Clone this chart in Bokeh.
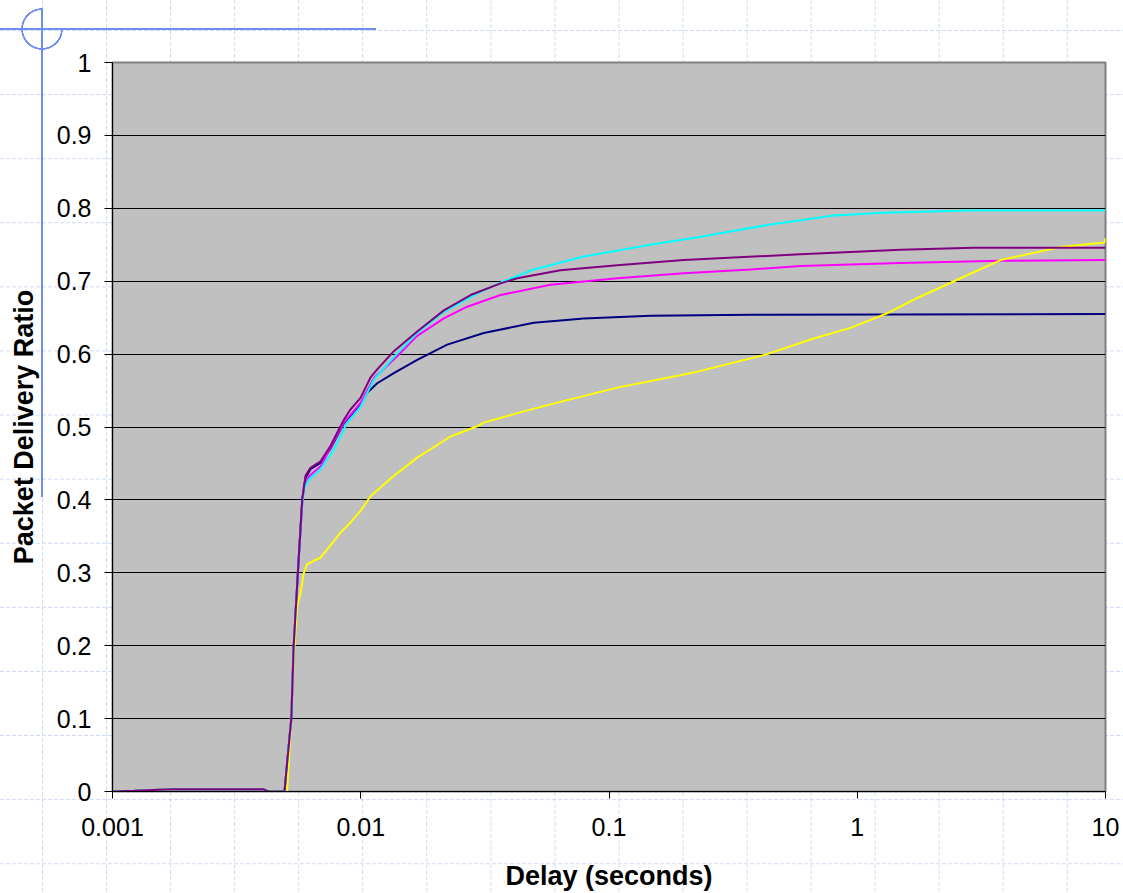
from bokeh.plotting import figure
from bokeh.models import Range1d, FixedTicker, CustomJSTickFormatter
from bokeh.embed import file_html
from bokeh.resources import INLINE

# ---------------- data (delay in seconds, packet delivery ratio) -------------
start_delay = [0.001, 0.00122, 0.00175, 0.00406, 0.00425, 0.00493]
start_ratio = [0.0, 0.001, 0.003, 0.003, 0.0, 0.0]

navy_delay = [0.00525, 0.00537, 0.00558, 0.00581, 0.00599, 0.00627, 0.00689,
              0.00755, 0.00855, 0.00998, 0.01062, 0.01165, 0.01359, 0.01688,
              0.0223, 0.0313, 0.04979, 0.07915, 0.147, 0.3715, 10.0]
navy_ratio = [0.10, 0.20, 0.30, 0.40, 0.430, 0.442, 0.451,
              0.470, 0.505, 0.530, 0.547, 0.560, 0.574, 0.592,
              0.613, 0.629, 0.643, 0.649, 0.6525, 0.654, 0.655]

magenta_delay = [0.00525, 0.00537, 0.00558, 0.0058, 0.0059, 0.00618, 0.00689,
                 0.00855, 0.00998, 0.01129, 0.01402, 0.01688, 0.02161, 0.02684,
                 0.03656, 0.05813, 0.1079, 0.2002, 0.3715, 0.5907, 1.494,
                 3.776, 10.0]
magenta_ratio = [0.10, 0.20, 0.30, 0.39, 0.419, 0.432, 0.446,
                 0.506, 0.533, 0.567, 0.597, 0.625, 0.649, 0.665,
                 0.681, 0.695, 0.704, 0.711, 0.716, 0.721, 0.725,
                 0.728, 0.729]

yellow_delay = [0.00505, 0.00521, 0.00537, 0.00555, 0.00572, 0.0059, 0.00609,
                0.00689, 0.00733, 0.00829, 0.00909, 0.00998, 0.01095, 0.01359,
                0.01688, 0.02299, 0.02945, 0.0313, 0.04268, 0.05813, 0.1079,
                0.2002, 0.2337, 0.4338, 0.648, 0.9393, 1.32, 1.744, 2.528,
                3.776, 6.585, 9.91, 10.0]
yellow_ratio = [0.0, 0.082, 0.182, 0.255, 0.273, 0.300, 0.312,
                0.321, 0.332, 0.355, 0.369, 0.385, 0.405, 0.433,
                0.458, 0.487, 0.501, 0.506, 0.519, 0.531, 0.554,
                0.572, 0.577, 0.600, 0.620, 0.636, 0.656, 0.677, 0.702,
                0.729, 0.747, 0.753, 0.759]

cyan_delay = [0.00525, 0.00537, 0.00558, 0.0058, 0.0059, 0.00618, 0.00689,
              0.00779, 0.00882, 0.00998, 0.01129, 0.01402, 0.01688, 0.02161,
              0.02854, 0.0377, 0.04979, 0.07915, 0.147, 0.2337, 0.4338,
              0.8045, 1.279, 2.773, 10.0]
cyan_ratio = [0.10, 0.20, 0.30, 0.39, 0.415, 0.428, 0.442,
              0.469, 0.506, 0.528, 0.565, 0.601, 0.629, 0.658,
              0.681, 0.700, 0.716, 0.734, 0.750, 0.761, 0.777,
              0.790, 0.794, 0.797, 0.797]

purple_delay = [0.00525, 0.00537, 0.00558, 0.00581, 0.00599, 0.00627, 0.00689,
                0.00755, 0.00855, 0.00909, 0.00998, 0.01095, 0.01165, 0.01359,
                0.01688, 0.02161, 0.02768, 0.03656, 0.04268, 0.06376, 0.1079,
                0.2002, 0.5907, 1.494, 2.94, 10.0]
purple_ratio = [0.10, 0.20, 0.30, 0.40, 0.433, 0.444, 0.453,
                0.474, 0.510, 0.524, 0.540, 0.568, 0.579, 0.604,
                0.631, 0.660, 0.681, 0.697, 0.704, 0.715, 0.722,
                0.729, 0.737, 0.743, 0.746, 0.746]

series = [
    ("#000080", navy_delay, navy_ratio),
    ("#FF00FF", magenta_delay, magenta_ratio),
    ("#FFFF00", yellow_delay, yellow_ratio),
    ("#00FFFF", cyan_delay, cyan_ratio),
    ("#800080", purple_delay, purple_ratio),
]

x_ticks = [0.001, 0.01, 0.1, 1, 10]
y_ticks = [0, 0.1, 0.2, 0.3, 0.4, 0.5, 0.6, 0.7, 0.8, 0.9, 1.0]
x_title = "Delay (seconds)"
y_title = "Packet Delivery Ratio"

# ---------------- figure ------------------------------------------------------
W, H = 1123, 893
grid_c = "#D0DBF5"
blue = "#6E8EF0"
ring = f"transparent 18.8px, {blue} 19.2px, {blue} 20.6px, transparent 21px"
layers = [
    (f"radial-gradient(circle at 22px 22px, {ring})", "22px 44px", "20px 7px", "no-repeat"),
    (f"radial-gradient(circle at 0px 0px, {ring})", "22px 22px", "42px 29px", "no-repeat"),
    (f"linear-gradient({blue}, {blue})", "376px 2px", "0px 28px", "no-repeat"),
    (f"linear-gradient({blue}, {blue})", "2px 489px", "41px 8px", "no-repeat"),
    (f"conic-gradient(from 0deg at 1px 4px, transparent 0 75%, {grid_c} 75% 100%)",
     "64.05px 6px", "42px 0px", "repeat"),
    (f"conic-gradient(from 0deg at 4px 1px, transparent 0 75%, {grid_c} 75% 100%)",
     "6px 64.1px", "0px 30px", "repeat"),
]

p = figure(width=W, height=H, x_axis_type="log",
           x_range=Range1d(0.001, 10), y_range=Range1d(0, 1),
           output_backend="svg", toolbar_location=None,
           min_border_left=112, min_border_right=18,
           min_border_top=62, min_border_bottom=100)
p.styles = {
    "background-color": "white",
    "background-image": ", ".join(l[0] for l in layers),
    "background-size": ", ".join(l[1] for l in layers),
    "background-position": ", ".join(l[2] for l in layers),
    "background-repeat": ", ".join(l[3] for l in layers),
}
p.border_fill_color = None
p.background_fill_color = "#C0C0C0"
p.outline_line_color = "#808080"
p.outline_line_width = 2

font = "Liberation Sans"
for ax in (p.xaxis[0], p.yaxis[0]):
    ax.axis_line_color = "black"
    ax.axis_line_width = 1
    ax.major_tick_line_color = "black"
    ax.major_tick_in = 0
    ax.minor_tick_line_color = None
    ax.major_label_text_font = font
    ax.major_label_text_font_size = "25px"
    ax.major_label_text_color = "black"
    ax.axis_label_text_font = font
    ax.axis_label_text_font_size = "27px"
    ax.axis_label_text_font_style = "bold"
    ax.axis_label_text_color = "black"

p.xaxis.ticker = FixedTicker(ticks=x_ticks)
p.xaxis.formatter = CustomJSTickFormatter(code="return tick.toString()")
p.xaxis.major_tick_out = 7
p.xaxis.major_label_standoff = 19
p.xaxis.axis_label = x_title
p.xaxis.axis_label_standoff = 22

p.yaxis.ticker = FixedTicker(ticks=y_ticks)
p.yaxis.formatter = CustomJSTickFormatter(
    code="return String(Math.round(tick*10)/10)")
p.yaxis.major_tick_out = 8
p.yaxis.major_label_standoff = 13
p.yaxis.axis_label = y_title
p.yaxis.axis_label_standoff = 15

p.xgrid.grid_line_color = None
p.ygrid.ticker = FixedTicker(ticks=y_ticks)
p.ygrid.grid_line_color = "black"
p.ygrid.grid_line_width = 1

for color, d, r in series:
    p.line(start_delay + d, start_ratio + r, line_color=color, line_width=2)

open("out.html", "w").write(file_html(p, INLINE))
